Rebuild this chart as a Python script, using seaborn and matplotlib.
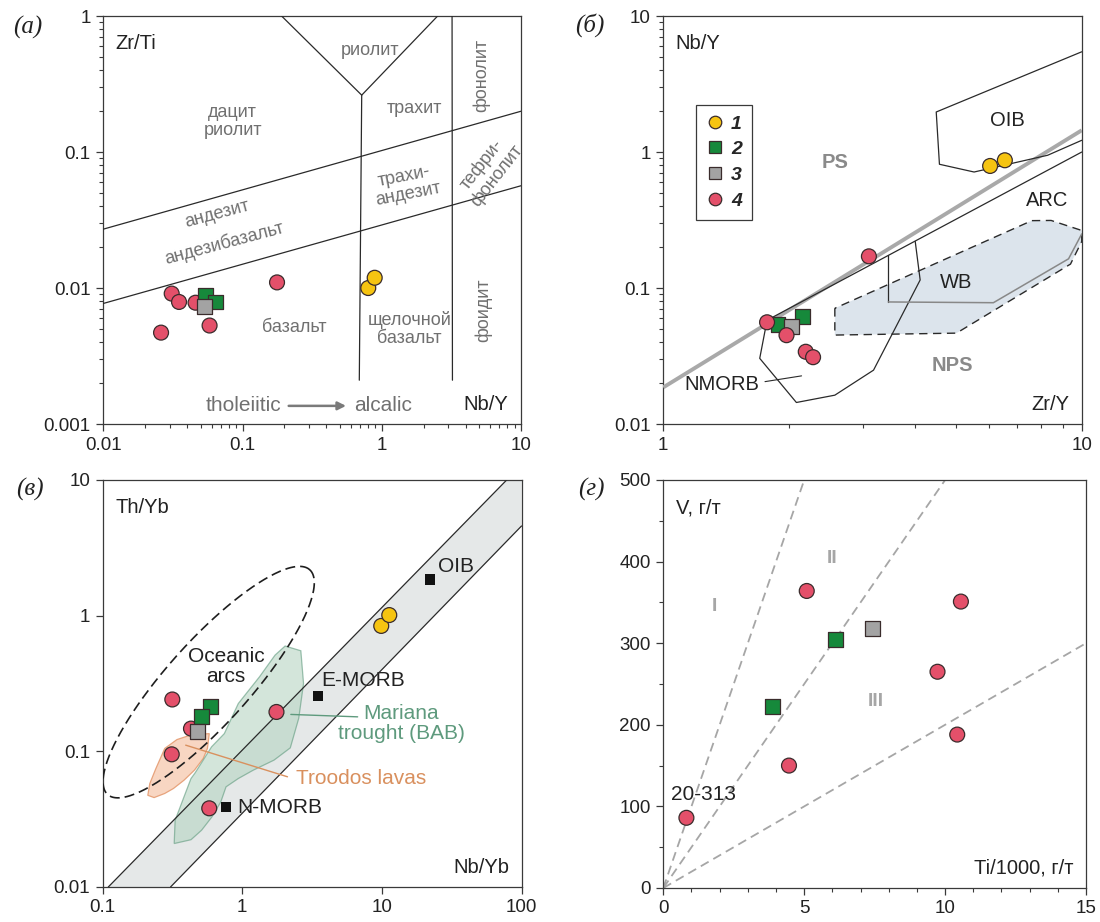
import numpy as np
import pandas as pd
import matplotlib
matplotlib.use("Agg")
import matplotlib.pyplot as plt
from matplotlib.lines import Line2D
from matplotlib.ticker import LogLocator, MultipleLocator, NullLocator, NullFormatter
import seaborn as sns

# sample groups (legend 1-4)
grp_colors = {"1": "#f6c411", "2": "#16893b", "3": "#a3a3a3", "4": "#e4506a"}
grp_markers = {"1": "o", "2": "s", "3": "s", "4": "o"}
edge = "#3a2c2c"

# (а) Nb/Y vs Zr/Ti
a_group = ["4", "4", "4", "4", "4", "4", "2", "2", "3", "1", "1"]
a_nb_y = [0.031, 0.035, 0.046, 0.026, 0.058, 0.177, 0.0545, 0.064, 0.053, 0.80, 0.89]
a_zr_ti = [0.0091, 0.0079, 0.0078, 0.0047, 0.0053, 0.0110, 0.0088, 0.0079, 0.0073, 0.0100, 0.0119]

# (б) Zr/Y vs Nb/Y
b_group = ["2", "2", "3", "4", "4", "4", "4", "4", "1", "1"]
b_zr_y = [1.88, 2.15, 2.02, 1.77, 1.97, 2.19, 2.28, 3.10, 6.04, 6.55]
b_nb_y = [0.054, 0.062, 0.052, 0.056, 0.045, 0.034, 0.031, 0.171, 0.79, 0.87]

# (в) Nb/Yb vs Th/Yb
c_group = ["4", "4", "4", "4", "4", "2", "2", "3", "1", "1"]
c_nb_yb = [0.316, 0.313, 0.43, 0.581, 1.76, 0.59, 0.512, 0.482, 9.9, 11.3]
c_th_yb = [0.241, 0.095, 0.147, 0.038, 0.195, 0.213, 0.180, 0.139, 0.84, 1.01]

# (г) Ti/1000 vs V
d_group = ["4", "4", "4", "4", "4", "4", "2", "2", "3"]
d_ti = [0.82, 4.46, 5.09, 9.73, 10.43, 10.56, 3.86, 6.12, 7.42]
d_v = [86, 150, 364, 265, 188, 351, 222, 305, 318]

# reference compositions in (в)
ref_names = ["N-MORB", "E-MORB", "OIB"]
ref_nb_yb = [0.766, 3.49, 22.2]
ref_th_yb = [0.039, 0.255, 1.85]

# field boundaries
a_upper = ([0.01, 10], [0.0271, 0.1995])
a_lower = ([0.01, 10], [0.0077, 0.0565])
a_vee = ([0.191, 0.718, 2.52], [1.0, 0.262, 1.0])
a_alk = ([0.718, 0.69], [0.262, 0.0021])
a_foid = ([3.2, 3.22], [1.0, 0.0021])

b_grey = ([1, 10], [0.0186, 1.445])
b_arc = ([1.77, 10], [0.058, 1.0])
b_oib = ([10, 4.49, 4.57, 5.53, 8.29, 10], [5.46, 1.97, 0.813, 0.713, 0.947, 1.22])
b_nmorb = ([1.77, 1.70, 2.08, 2.57, 3.18, 4.11, 4.0], [0.058, 0.0304, 0.0144, 0.0163, 0.0249, 0.1146, 0.22])
b_box_v = ([3.45, 3.45], [0.174, 0.079])
b_box_g = ([3.45, 6.15, 9.3, 10], [0.079, 0.078, 0.164, 0.25])
b_wb = ([2.57, 2.57, 5.02, 9.4, 10, 10, 8.45, 7.6, 2.57],
        [0.071, 0.0451, 0.0466, 0.15, 0.22, 0.265, 0.314, 0.313, 0.071])

c_band = ([0.110, 78.3, 100, 100, 0.307], [0.01, 10, 10, 4.58, 0.01])
c_mariana = ([0.326, 0.331, 0.383, 0.430, 0.460, 0.604, 0.745, 0.938, 1.33, 1.72, 2.03, 2.63, 2.75,
              2.54, 2.21, 1.69, 1.20, 0.938, 0.766, 0.703, 0.608, 0.512, 0.430],
             [0.0209, 0.0310, 0.0461, 0.0630, 0.0693, 0.108, 0.135, 0.225, 0.354, 0.512, 0.597, 0.551,
              0.316, 0.175, 0.106, 0.0861, 0.0726, 0.0630, 0.0547, 0.0424, 0.0329, 0.0262, 0.0223])
c_troodos = ([0.211, 0.218, 0.241, 0.279, 0.341, 0.430, 0.581, 0.564, 0.526, 0.455, 0.383, 0.322, 0.279, 0.234],
             [0.0474, 0.0578, 0.0746, 0.105, 0.122, 0.132, 0.135, 0.105, 0.0885, 0.0726, 0.0612, 0.0532,
              0.0489, 0.0456])
# oceanic arcs ellipse in log10 units: centre, semi-axes, tilt
arc_centre = (-0.24, -0.49)
arc_axes = (1.1, 0.3)
arc_tilt = 49

# Ti/V ratio lines in (г)
d_lines = [([0, 5.0], [0, 500]), ([0, 10.0], [0, 500]), ([0, 15.0], [0, 300])]

sns.set_style("ticks")
plt.rcParams["font.family"] = ["Liberation Sans", "DejaVu Sans"]
plt.rcParams["axes.edgecolor"] = "#3a3a3a"
plt.rcParams["axes.linewidth"] = 0.9
plt.rcParams["xtick.color"] = "#3a3a3a"
plt.rcParams["ytick.color"] = "#3a3a3a"
plt.rcParams["xtick.labelcolor"] = "#222222"
plt.rcParams["ytick.labelcolor"] = "#222222"

fig = plt.figure(figsize=(11, 9.22), dpi=100)
ax_a = fig.add_axes([0.0939, 0.5401, 0.3797, 0.4425])
ax_b = fig.add_axes([0.6030, 0.5401, 0.3804, 0.4425])
ax_c = fig.add_axes([0.0932, 0.0380, 0.3809, 0.4414])
ax_d = fig.add_axes([0.6030, 0.0369, 0.3843, 0.4425])

TICK = 13.5
CORNER = 14.5
LBL = 15
ROCK = 13
GREY_TXT = "#707070"


def draw_points(ax, groups, xs, ys):
    df = pd.DataFrame({"g": groups, "x": xs, "y": ys})
    sns.scatterplot(data=df, x="x", y="y", hue="g", style="g", palette=grp_colors,
                    markers=grp_markers, s=115, edgecolor=edge, linewidth=0.9,
                    legend=False, ax=ax, zorder=6)
    ax.set_xlabel("")
    ax.set_ylabel("")


def log_axes(ax, xlim, ylim, minor=True):
    ax.set_xscale("log")
    ax.set_yscale("log")
    ax.set_xlim(*xlim)
    ax.set_ylim(*ylim)
    xt = [10.0 ** k for k in range(int(np.log10(xlim[0])), int(np.log10(xlim[1])) + 1)]
    yt = [10.0 ** k for k in range(int(np.log10(ylim[0])), int(np.log10(ylim[1])) + 1)]
    ax.set_xticks(xt)
    ax.set_xticklabels([f"{v:g}" for v in xt])
    ax.set_yticks(yt)
    ax.set_yticklabels([f"{v:g}" for v in yt])
    if minor:
        ax.xaxis.set_minor_locator(LogLocator(base=10, subs=np.arange(2, 10)))
        ax.yaxis.set_minor_locator(LogLocator(base=10, subs=np.arange(2, 10)))
    else:
        ax.xaxis.set_minor_locator(NullLocator())
        ax.yaxis.set_minor_locator(NullLocator())
    ax.xaxis.set_minor_formatter(NullFormatter())
    ax.yaxis.set_minor_formatter(NullFormatter())


def corner_labels(ax, ylab, xlab):
    ax.text(0.03, 0.955, ylab, transform=ax.transAxes, fontsize=CORNER, va="top", color="#222")
    ax.text(0.97, 0.035, xlab, transform=ax.transAxes, fontsize=CORNER, ha="right", color="#222")


for ax in (ax_a, ax_b, ax_c, ax_d):
    ax.tick_params(which="major", length=5, width=0.9, labelsize=TICK, top=False, right=False, pad=4)
    ax.tick_params(which="minor", length=3, width=0.8, top=False, right=False)
    for sp in ax.spines.values():
        sp.set_visible(True)

# ---------- (а) ----------
log_axes(ax_a, (0.01, 10), (0.001, 1))
for xs, ys in (a_upper, a_lower, a_vee, a_alk, a_foid):
    ax_a.plot(xs, ys, color="#2a2a2a", lw=0.9, zorder=3)
draw_points(ax_a, a_group, a_nb_y, a_zr_ti)
corner_labels(ax_a, "Zr/Ti", "Nb/Y")
kw = dict(color=GREY_TXT, fontsize=ROCK, ha="center", va="center", linespacing=1.1)
ax_a.text(0.83, 0.556, "риолит", **kw)
ax_a.text(0.085, 0.167, "дацит\nриолит", **kw)
ax_a.text(1.73, 0.209, "трахит", **kw)
ax_a.text(5.2, 0.367, "фонолит", rotation=90, **kw)
ax_a.text(0.0656, 0.0352, "андезит", rotation=15, **kw)
ax_a.text(0.0736, 0.0212, "андезибазальт", rotation=15, **kw)
ax_a.text(1.5, 0.0569, "трахи-\nандезит", rotation=11, **kw)
ax_a.text(5.9, 0.0734, "тефри-\nфонолит", rotation=52, **kw)
ax_a.text(0.234, 0.0051, "базальт", **kw)
ax_a.text(1.585, 0.0050, "щелочной\nбазальт", **kw)
ax_a.text(5.35, 0.00683, "фоидит", rotation=90, **kw)
ax_a.text(0.1014, 0.00136, "tholeiitic", color=GREY_TXT, fontsize=15, ha="center", va="center")
ax_a.text(1.03, 0.00136, "alcalic", color=GREY_TXT, fontsize=15, ha="center", va="center")
ax_a.annotate("", xy=(0.58, 0.00136), xytext=(0.205, 0.00136),
              arrowprops=dict(arrowstyle="-|>", color="#7a7a7a", lw=1.8, mutation_scale=12))

# ---------- (б) ----------
log_axes(ax_b, (1, 10), (0.01, 10))
ax_b.fill(b_wb[0], b_wb[1], facecolor="#dce4ec", edgecolor="#2a2a2a", lw=1.0,
          linestyle=(0, (6, 4)), zorder=2)
ax_b.plot(*b_grey, color="#a9a9a9", lw=2.8, zorder=3, solid_capstyle="butt")
ax_b.plot(*b_arc, color="#2a2a2a", lw=0.9, zorder=3)
ax_b.plot(*b_oib, color="#2a2a2a", lw=0.9, zorder=3)
ax_b.plot(*b_nmorb, color="#2a2a2a", lw=0.9, zorder=3)
ax_b.plot(*b_box_v, color="#2a2a2a", lw=0.9, zorder=3)
ax_b.plot(*b_box_g, color="#888888", lw=1.1, zorder=3)
ax_b.plot([1.75, 2.14], [0.0205, 0.0226], color="#2a2a2a", lw=0.8, zorder=3)
draw_points(ax_b, b_group, b_zr_y, b_nb_y)
corner_labels(ax_b, "Nb/Y", "Zr/Y")
kwb = dict(fontsize=CORNER, ha="center", va="center", color="#222")
ax_b.text(6.64, 1.71, "OIB", **kwb)
ax_b.text(8.26, 0.441, "ARC", **kwb)
ax_b.text(5.02, 0.110, "WB", **kwb)
ax_b.text(1.379, 0.0194, "NMORB", **kwb)
ax_b.text(2.58, 0.832, "PS", fontsize=CORNER, ha="center", va="center", color="#8a8a8a", weight="bold")
ax_b.text(4.9, 0.0269, "NPS", fontsize=CORNER, ha="center", va="center", color="#8a8a8a", weight="bold")
handles = [Line2D([], [], linestyle="none", marker=grp_markers[g], markerfacecolor=grp_colors[g],
                  markeredgecolor=edge, markeredgewidth=0.9, markersize=9) for g in ["1", "2", "3", "4"]]
leg = ax_b.legend(handles, ["1", "2", "3", "4"], loc="upper left", bbox_to_anchor=(0.078, 0.7815),
                  frameon=True, fancybox=False, edgecolor="#3a3a3a", framealpha=1,
                  handletextpad=0.3, borderpad=0.5, labelspacing=0.42, handlelength=1.0,
                  borderaxespad=0, prop={"style": "italic", "weight": "bold", "size": 14})
leg.get_frame().set_linewidth(0.9)

# ---------- (в) ----------
log_axes(ax_c, (0.1, 100), (0.01, 10), minor=False)
ax_c.fill(c_band[0], c_band[1], facecolor="#e5e8e8", edgecolor="none", zorder=1)
ax_c.plot([c_band[0][0], c_band[0][1]], [c_band[1][0], c_band[1][1]], color="#2a2a2a", lw=0.9, zorder=4)
ax_c.plot([c_band[0][4], c_band[0][3]], [c_band[1][4], c_band[1][3]], color="#2a2a2a", lw=0.9, zorder=4)
ax_c.fill(c_troodos[0], c_troodos[1], facecolor="#f8d2bc", edgecolor="#e59c72", lw=0.9, alpha=0.9, zorder=2)
ax_c.fill(c_mariana[0], c_mariana[1], facecolor="#b6d4c2", edgecolor="#5e9a7d", lw=0.9, alpha=0.6, zorder=3)
t = np.linspace(0, 2 * np.pi, 300)
th = np.deg2rad(arc_tilt)
ex = arc_centre[0] + arc_axes[0] * np.cos(t) * np.cos(th) - arc_axes[1] * np.sin(t) * np.sin(th)
ey = arc_centre[1] + arc_axes[0] * np.cos(t) * np.sin(th) + arc_axes[1] * np.sin(t) * np.cos(th)
ax_c.plot(10 ** ex, 10 ** ey, color="#1e1e1e", lw=1.2, linestyle=(0, (6, 3)), zorder=5)
ax_c.plot([0.394, 2.11], [0.111, 0.0649], color="#d9905e", lw=1.0, zorder=5)
ax_c.plot([2.23, 6.71], [0.187, 0.1795], color="#5e9a7d", lw=1.0, zorder=5)
sns.scatterplot(x=ref_nb_yb, y=ref_th_yb, marker="s", color="#111111", s=55, edgecolor="none",
                ax=ax_c, zorder=6)
draw_points(ax_c, c_group, c_nb_yb, c_th_yb)
corner_labels(ax_c, "Th/Yb", "Nb/Yb")
ax_c.text(0.766, 0.42, "Oceanic\narcs", fontsize=LBL, ha="center", va="center", color="#222", linespacing=1.05)
ax_c.text(3.66, 0.335, "E-MORB", fontsize=LBL, ha="left", va="center", color="#222")
ax_c.text(0.927, 0.0385, "N-MORB", fontsize=LBL, ha="left", va="center", color="#222")
ax_c.text(25.4, 2.3, "OIB", fontsize=LBL, ha="left", va="center", color="#222")
ax_c.text(13.8, 0.160, "Mariana\ntrought (BAB)", fontsize=LBL, ha="center", va="center",
          color="#5e9a7d", linespacing=1.05)
ax_c.text(2.44, 0.063, "Troodos lavas", fontsize=LBL, ha="left", va="center", color="#d9905e")

# ---------- (г) ----------
ax_d.set_xlim(0, 15)
ax_d.set_ylim(0, 500)
ax_d.xaxis.set_major_locator(MultipleLocator(5))
ax_d.xaxis.set_minor_locator(MultipleLocator(1))
ax_d.yaxis.set_major_locator(MultipleLocator(100))
ax_d.yaxis.set_minor_locator(MultipleLocator(50))
for xs, ys in d_lines:
    ax_d.plot(xs, ys, color="#a6a6a6", lw=1.3, linestyle=(0, (5, 3)), zorder=2)
draw_points(ax_d, d_group, d_ti, d_v)
corner_labels(ax_d, "V, г/т", "Ti/1000, г/т")
kwd = dict(fontsize=14, ha="center", va="center", color="#a6a6a6", weight="bold")
ax_d.text(1.82, 345, "I", **kwd)
ax_d.text(6.0, 404, "II", **kwd)
ax_d.text(7.54, 228, "III", **kwd)
ax_d.text(1.41, 114, "20-313", fontsize=LBL, ha="center", va="center", color="#222")

# panel letters
pl = dict(fontsize=18, style="italic", family=["Liberation Serif", "DejaVu Serif"], ha="center", va="center",
          color="#222")
fig.text(28 / 1100, 1 - 27 / 922, "(а)", **pl)
fig.text(590 / 1100, 1 - 25 / 922, "(б)", **pl)
fig.text(30 / 1100, 1 - 489 / 922, "(в)", **pl)
fig.text(591 / 1100, 1 - 489 / 922, "(г)", **pl)

fig.savefig("out.png", dpi=100)
